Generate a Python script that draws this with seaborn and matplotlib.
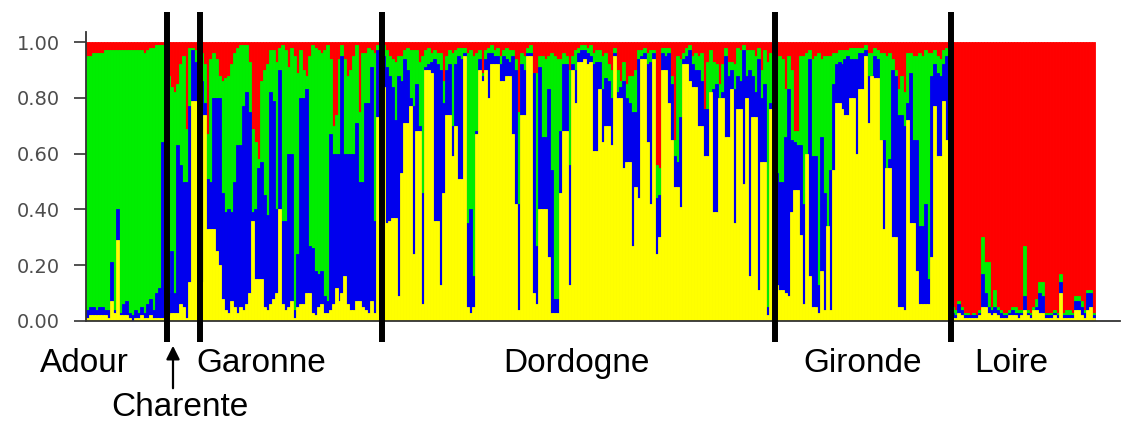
import numpy as np
import pandas as pd
import matplotlib
matplotlib.use('Agg')
import matplotlib.pyplot as plt
import seaborn as sns

# STRUCTURE membership per individual
# each tuple: (yellow, yellow+blue, yellow+blue+green) -> red fills up to 1.0
ADOUR = [(.01,.04,.95),(.02,.05,.95),(.02,.05,.96),(.02,.04,.96),(.02,.05,.96),(.02,.05,.96),
	(.02,.04,.97),(.01,.04,.97),(.07,.21,.97),(.03,.04,.97),(.29,.40,.97),(.02,.03,.97),
	(.02,.06,.97),(.02,.07,.97),(.01,.03,.97),(.00,.02,.97),(.01,.04,.97),(.01,.03,.97),
	(.02,.05,.97),(.01,.03,.96),(.01,.06,.97),(.02,.08,.98),(.01,.04,.98),(.01,.10,.99),
	(.01,.12,.99),(.01,.64,.99),(.02,.64,.99)]
CHARENTE = [(.02,.10,.88),(.03,.25,.84),(.03,.10,.82),(.03,.63,.85),(.06,.56,.92),(.05,.50,.95),
	(.01,.50,.69),(.14,.77,.98),(.79,.97,.98),(.79,.93,.97),(.13,.85,.95)]
GARONNE = [(.14,.86,.96),(.74,.78,.92),(.33,.51,.67),(.33,.50,.94),(.33,.80,.96),(.25,.80,.94),
	(.20,.80,.88),(.08,.46,.86),(.04,.39,.87),(.03,.40,.88),(.07,.39,.92),(.05,.50,.96),
	(.03,.63,.98),(.05,.63,.99),(.04,.77,.99),(.06,.82,.99),(.10,.75,.93),(.36,.39,.69),
	(.15,.40,.64),(.15,.55,.58),(.15,.57,.86),(.05,.45,.90),(.04,.38,.92),(.06,.82,.97),
	(.08,.79,.97),(.10,.40,.93),(.40,.90,.98),(.06,.36,.99),(.04,.36,.97),(.05,.60,.91),
	(.07,.60,.98),(.01,.04,.95),(.05,.24,.89),(.06,.80,.97),(.06,.80,.90),(.10,.83,.88),
	(.10,.27,.95),(.03,.26,.99),(.02,.18,.98),(.05,.17,.97),(.06,.18,.96),(.03,.09,.97),
	(.03,.07,.99),(.04,.67,.94),(.06,.60,.70),(.12,.60,.74),(.07,.60,.94),(.10,.95,.99),
	(.16,.60,.94),(.06,.60,.88),(.04,.60,.90),(.04,.60,.95),(.07,.71,.99),(.07,.50,.75),
	(.05,.50,.96),(.04,.78,.96),(.03,.78,.98),(.07,.91,.97),(.03,.36,.96),(.73,.97,.99),
	(.05,.70,.95)]
DORDOGNE = [(.84,.95,.99),(.35,.91,.97),(.36,.88,.95),(.37,.84,.94),(.37,.72,.93),(.09,.88,.95),
	(.53,.86,.95),(.71,.94,.97),(.71,.90,.98),(.77,.80,.97),(.24,.77,.97),(.68,.85,.97),
	(.68,.70,.93),(.06,.46,.95),(.90,.91,.97),(.90,.92,.98),(.89,.93,.96),(.36,.94,.97),
	(.36,.92,.96),(.13,.90,.96),(.46,.78,.86),(.74,.90,.95),(.74,.92,.97),(.59,.70,.96),
	(.70,.92,.97),(.51,.95,.98),(.51,.94,.98),(.95,.96,.98),(.05,.35,.96),(.03,.40,.97),
	(.05,.16,.95),(.67,.68,.96),(.90,.94,.97),(.86,.88,.89),(.90,.94,.97),(.80,.96,.98),
	(.92,.96,.99),(.92,.95,.97),(.92,.95,.98),(.86,.92,.95),(.86,.95,.97),(.88,.94,.98),
	(.88,.93,.97),(.67,.95,.97),(.42,.90,.94),(.04,.42,.75),(.74,.92,.96),(.74,.90,.95),
	(.95,.96,.98),(.95,.96,.99),(.10,.89,.89),(.06,.27,.89),(.40,.91,.95),(.40,.66,.95),
	(.40,.66,.94),(.23,.83,.95),(.03,.54,.96),(.03,.08,.95),(.03,.08,.94),(.46,.68,.94),
	(.68,.92,.96),(.68,.92,.95),(.13,.56,.90),(.90,.92,.95),(.78,.90,.97),(.93,.96,.98),
	(.93,.97,.99),(.94,.97,.99),(.92,.96,.98),(.93,.95,.99),(.61,.92,.96),(.61,.93,.97),
	(.83,.93,.97),(.64,.83,.95),(.70,.87,.96),(.70,.86,.92),(.63,.80,.90),(.95,.96,.98),
	(.80,.82,.90),(.80,.84,.86),(.55,.86,.93),(.57,.80,.85),(.57,.78,.88),(.27,.75,.88),
	(.48,.75,.90),(.44,.94,.97),(.94,.95,.97),(.94,.96,.98),(.64,.92,.96),(.42,.93,.97),
	(.94,.96,.97),(.24,.44,.56),(.30,.45,.55),(.90,.96,.98),(.90,.95,.98),(.78,.96,.98),
	(.65,.85,.88),(.48,.59,.65),(.48,.57,.95),(.41,.73,.94),(.92,.94,.96),(.92,.95,.98),
	(.86,.97,.99),(.84,.92,.95),(.84,.90,.96),(.70,.90,.95),(.70,.86,.96),(.59,.76,.76),
	(.59,.76,.93),(.82,.82,.97),(.39,.83,.93),(.39,.85,.92),(.80,.80,.85),(.80,.82,.92),
	(.66,.95,.98),(.66,.88,.93),(.83,.90,.93),(.35,.83,.92),(.76,.88,.98),(.76,.86,.97),
	(.49,.97,.99),(.80,.88,.97),(.16,.90,.97),(.73,.88,.97),(.73,.82,.95),(.11,.94,.98),
	(.57,.80,.90),(.57,.85,.97),(.02,.05,.93),(.76,.78,.96),(.76,.80,.95)]
GIRONDE = [(.13,.53,.90),(.11,.50,.95),(.11,.50,.94),(.10,.66,.83),(.09,.83,.95),(.39,.65,.90),
	(.47,.64,.68),(.47,.63,.68),(.31,.63,.95),(.06,.42,.95),(.60,.60,.96),(.16,.94,.97),
	(.05,.59,.94),(.05,.59,.95),(.03,.13,.96),(.18,.66,.94),(.04,.46,.95),(.34,.34,.95),
	(.04,.54,.95),(.54,.85,.96),(.78,.92,.96),(.78,.93,.97),(.76,.92,.97),(.74,.94,.97),
	(.74,.95,.97),(.80,.94,.98),(.80,.94,.98),(.60,.94,.98),(.83,.96,.98),(.83,.96,.98),
	(.95,.97,.99),(.71,.88,.96),(.88,.88,.96),(.87,.95,.98),(.87,.94,.97),(.65,.65,.96),
	(.33,.65,.96),(.55,.55,.95),(.55,.58,.96),(.30,.90,.94),(.30,.88,.90),(.05,.74,.83),
	(.05,.74,.88),(.04,.70,.82),(.72,.78,.96),(.35,.89,.96),(.35,.65,.95),(.18,.65,.95),
	(.06,.34,.96),(.06,.34,.95),(.06,.42,.97),(.06,.15,.96),(.23,.88,.96),(.77,.92,.97),
	(.59,.89,.95),(.59,.88,.94),(.79,.92,.97),(.65,.95,.98),(.65,.90,.94)]
LOIRE = [(.01,.03,.05),(.01,.02,.04),(.03,.06,.07),(.02,.04,.05),(.01,.02,.03),(.01,.02,.03),
	(.01,.02,.02),(.01,.02,.03),(.01,.02,.02),(.02,.03,.04),(.05,.17,.30),(.05,.10,.21),
	(.03,.05,.21),(.02,.04,.05),(.03,.05,.11),(.02,.04,.05),(.01,.03,.04),(.01,.02,.03),
	(.01,.02,.03),(.02,.03,.04),(.02,.04,.05),(.02,.03,.05),(.01,.03,.04),(.02,.03,.04),
	(.04,.09,.27),(.02,.03,.04),(.01,.02,.03),(.04,.04,.05),(.04,.05,.08),(.03,.10,.14),
	(.03,.09,.14),(.01,.02,.03),(.01,.02,.03),(.01,.02,.03),(.02,.03,.04),(.01,.02,.03),
	(.10,.14,.17),(.01,.02,.03),(.01,.02,.04),(.01,.02,.04),(.01,.02,.03),(.04,.07,.09),
	(.04,.07,.09),(.02,.05,.07),(.01,.03,.04),(.04,.10,.11),(.05,.10,.11),(.01,.02,.03)]

regions = ['Adour', 'Charente', 'Garonne', 'Dordogne', 'Gironde', 'Loire']
groups = [ADOUR, CHARENTE, GARONNE, DORDOGNE, GIRONDE, LOIRE]
col_red, col_green, col_blue, col_yellow = '#ff0000', '#00ee00', '#0000ee', '#ffff00'

# BUILD TABLE -------------------------------------------
rows = []
for reg, grp in zip(regions, groups):
	for t in grp:
		rows.append({'region': reg, 'y': t[0], 'yb': t[1], 'ybg': t[2]})
df = pd.DataFrame(rows)
df['ind'] = np.arange(len(df))
df['total'] = 1.0
N = len(df)
bounds = np.cumsum([len(g) for g in groups])[:-1] - 0.5

# PLOT --------------------------------------------------
sns.set_style('white')
plt.rcParams['font.family'] = ['DejaVu Sans']
W, H = 1123, 421
fig = plt.figure(figsize=(W / 100, H / 100), dpi=100)
ax = fig.add_axes([86 / W, (H - 321) / H, (1120 - 86) / W, (321 - 32) / H])

for col, c in [('total', col_red), ('ybg', col_green), ('yb', col_blue), ('y', col_yellow)]:
	sns.barplot(data=df, x='ind', y=col, color=c, saturation=1, width=1, errorbar=None,
		edgecolor=c, linewidth=0.6, ax=ax)

ax.set_xlim(-0.5, N - 0.5 + N * (1120 - 1095) / (1095 - 86))
ax.set_ylim(0, 1.036)
ax.set_xticks([])
ax.set_xlabel('')
ax.set_ylabel('')
ax.set_yticks([0, .2, .4, .6, .8, 1.0])
ax.set_yticklabels(['%.2f' % v for v in [0, .2, .4, .6, .8, 1.0]])
ax.tick_params(axis='y', left=True, length=9, width=1.2, color='#333333', pad=10,
	labelsize=14, labelcolor='#4d4d4d')
sns.despine(ax=ax)
for s in ['left', 'bottom']:
	ax.spines[s].set_color('#333333')
	ax.spines[s].set_linewidth(1.3)

# population separators
ax.vlines(bounds, -0.075, 1.107, colors='k', linewidth=4.3, clip_on=False, zorder=5)

# region labels
lab_kw = dict(fontsize=24, family=['Liberation Sans', 'DejaVu Sans'], color='black',
	ha='center', va='baseline')
for name, px in [('Adour', 84), ('Garonne', 261), ('Dordogne', 576), ('Gironde', 863), ('Loire', 1011)]:
	fig.text(px / W, 1 - 372 / H, name, **lab_kw)
fig.text(180 / W, 1 - 416 / H, 'Charente', **lab_kw)
ax.annotate('', xy=(173 / W, 1 - 343 / H), xytext=(173 / W, 1 - 391 / H),
	xycoords='figure fraction', textcoords='figure fraction',
	arrowprops=dict(arrowstyle='-|>', color='k', lw=1.6, mutation_scale=20))

fig.savefig('out.png', dpi=100)
